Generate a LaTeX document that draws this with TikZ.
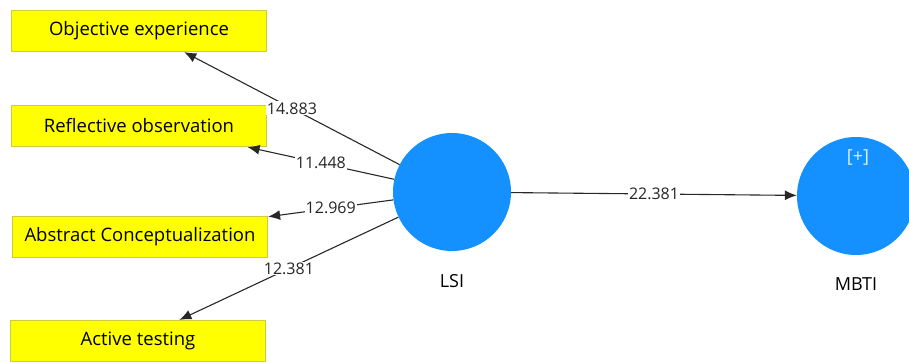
\documentclass[tikz,border=0pt]{standalone}
\usepackage{fontspec}
\setmainfont{Open Sans}
\usetikzlibrary{arrows.meta}

\definecolor{boxyellow}{RGB}{255,255,0}
\definecolor{boxedge}{RGB}{205,205,60}
\definecolor{lvblue}{RGB}{20,145,255}
\definecolor{pathgrey}{RGB}{40,40,40}

\begin{document}
\begin{tikzpicture}[x=1pt, y=-1pt,
        indicator/.style={draw=boxedge, fill=boxyellow, line width=1.2pt,
            minimum width=255pt, minimum height=41pt, inner sep=0pt,
            font=\fontsize{18.5}{20}\selectfont},
        latent/.style={circle, fill=lvblue, minimum size=118pt, inner sep=0pt},
        lvname/.style={font=\fontsize{18}{20}\selectfont},
        path/.style={draw=pathgrey, line width=1.1pt, -{Latex[length=12pt, width=10pt]}},
        weight/.style={midway, fill=white, inner sep=1pt, text=black!85,
            font=\fontsize{16}{18}\selectfont}]
        \clip (0, 0) rectangle (909, 363);
        \useasboundingbox (0, 0) rectangle (909, 363);

        \node (oe) at (139, 31) [indicator] {Objective experience};
        \node (ro) at (139, 126) [indicator] {Reflective observation};
        \node (ac) at (140, 237) [indicator] {Abstract Conceptualization};
        \node (at) at (138, 341) [indicator] {Active testing};

        \node (lsi) at (452, 192) [latent] {};
        \node (mbti) at (856, 196) [latent] {};

        \node (lsilabel) at (452, 281) [lvname] {LSI};
        \node (mbtilabel) at (856, 284) [lvname] {MBTI};
        \node (expand) at (858, 158) [lvname, text=white!85!lvblue] {[+]};

        \draw [path] (lsi) -- (oe.-25) node [weight] {14.883};
        \draw [path] (lsi) -- (ro.-11) node [weight] {11.448};
        \draw [path] (lsi) -- (ac.9.5) node [weight] {12.969};
        \draw [path] (lsi) -- (at.27) node [weight] {12.381};

        \draw [path] (lsi) -- (mbti) node [weight] {22.381};
    \end{tikzpicture}
\end{document}
